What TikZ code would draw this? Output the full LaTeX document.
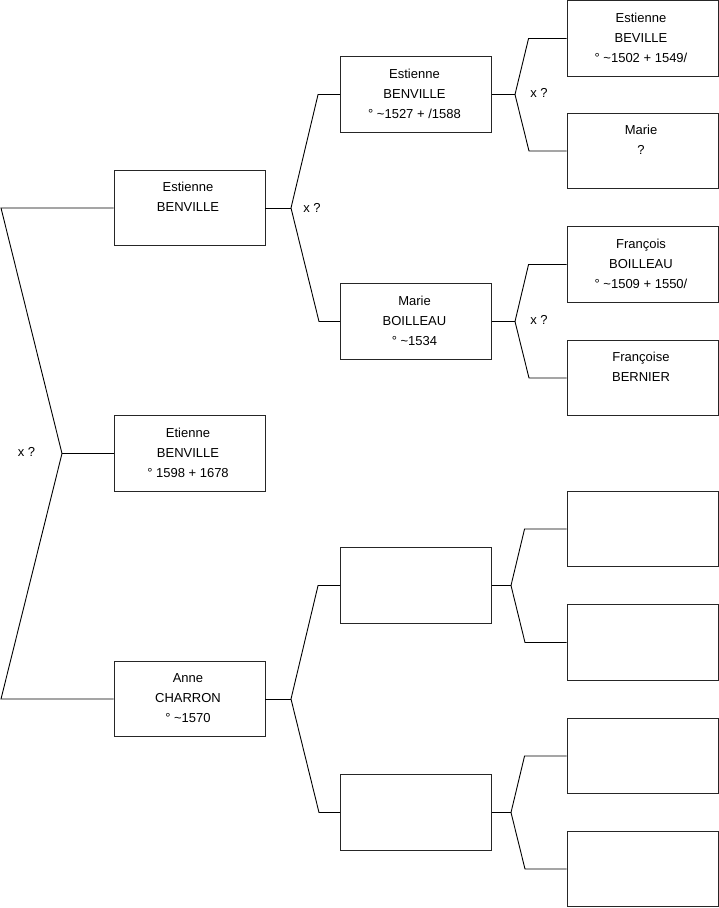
\documentclass[tikz,border=0pt]{standalone}
\usepackage{fontspec}
\setmainfont{Liberation Sans}
\begin{document}
\begin{tikzpicture}[x=1pt,y=-1pt,
  box/.style={draw=black!85,line width=0.9pt,minimum width=151pt,minimum height=75.5pt,inner sep=0pt,fill=white},
  txt/.style={anchor=north,align=center,inner sep=0pt,font=\fontsize{13}{20}\selectfont},
  link/.style={draw=black,line width=0.9pt},
  xq/.style={font=\fontsize{13}{14}\selectfont,inner sep=0pt}]
\useasboundingbox (0,0) rectangle (719,908);
% generation 1
\node[box] (e0) at (189.5,453.5) {};
\node[box] (f1) at (189.5,208) {};
\node[box] (m1) at (189.5,699) {};
% generation 2
\node[box] (f2) at (416,94.5) {};
\node[box] (m2) at (416,321.5) {};
\node[box] (f3) at (416,585.5) {};
\node[box] (m3) at (416,812.5) {};
% generation 3
\node[box] (g1) at (642.5,38.5) {};
\node[box] (g2) at (642.5,151) {};
\node[box] (g3) at (642.5,264.5) {};
\node[box] (g4) at (642.5,378) {};
\node[box] (g5) at (642.5,529) {};
\node[box] (g6) at (642.5,642.5) {};
\node[box] (g7) at (642.5,756) {};
\node[box] (g8) at (642.5,869) {};
% texts
\node[txt] (te0) at ([xshift=-1.5pt,yshift=-6.5pt]e0.north) {\rule{0pt}{15pt}Etienne\\BENVILLE\\° 1598 + 1678};
\node[txt] (tf1) at ([xshift=-1.5pt,yshift=-6.5pt]f1.north) {\rule{0pt}{15pt}Estienne\\BENVILLE};
\node[txt] (tm1) at ([xshift=-1.5pt,yshift=-6.5pt]m1.north) {\rule{0pt}{15pt}Anne\\CHARRON\\° \textasciitilde1570};
\node[txt] (tf2) at ([xshift=-1.5pt,yshift=-6.5pt]f2.north) {\rule{0pt}{15pt}Estienne\\BENVILLE\\° \textasciitilde1527 + /1588};
\node[txt] (tm2) at ([xshift=-1.5pt,yshift=-6.5pt]m2.north) {\rule{0pt}{15pt}Marie\\BOILLEAU\\° \textasciitilde1534};
\node[txt] (tg1) at ([xshift=-1.5pt,yshift=-6.5pt]g1.north) {\rule{0pt}{15pt}Estienne\\BEVILLE\\° \textasciitilde1502 + 1549/};
\node[txt] (tg2) at ([xshift=-1.5pt,yshift=-6.5pt]g2.north) {\rule{0pt}{15pt}Marie\\?};
\node[txt] (tg3) at ([xshift=-1.5pt,yshift=-6.5pt]g3.north) {\rule{0pt}{15pt}François\\BOILLEAU\\° \textasciitilde1509 + 1550/};
\node[txt] (tg4) at ([xshift=-1.5pt,yshift=-6.5pt]g4.north) {\rule{0pt}{15pt}Françoise\\BERNIER};
% vertices
\coordinate (v0) at (62,453.5);
\coordinate (v1) at (291,208);
\coordinate (v2) at (291,699);
\coordinate (v3) at (515,94.5);
\coordinate (v4) at (515,321.5);
\coordinate (v5) at (511,585.5);
\coordinate (v6) at (511,812.5);
% root connector
\draw[link] (f1.west) -- (1,208) -- (v0) -- (1,699) -- (m1.west);
\draw[link] (v0) -- (e0.west);
% gen 1 -> 2
\draw[link] (f1.east) -- (v1);
\draw[link] (f2.west) -- ++(-22,0) -- (v1) -- (319,321.5) -- (m2.west);
\draw[link] (m1.east) -- (v2);
\draw[link] (f3.west) -- ++(-22,0) -- (v2) -- (319,812.5) -- (m3.west);
% gen 2 -> 3
\draw[link] (f2.east) -- (v3);
\draw[link] (g1.west) -- ++(-38,0) -- (v3) -- (529,151) -- (g2.west);
\draw[link] (m2.east) -- (v4);
\draw[link] (g3.west) -- ++(-38,0) -- (v4) -- (529,378) -- (g4.west);
\draw[link] (f3.east) -- (v5);
\draw[link] (g5.west) -- ++(-42,0) -- (v5) -- (525,642.5) -- (g6.west);
\draw[link] (m3.east) -- (v6);
\draw[link] (g7.west) -- ++(-42,0) -- (v6) -- (525,869) -- (g8.west);
% marriage labels
\node[xq] (x0) at (26.5,452) {x ?};
\node[xq] (x1) at (312,208) {x ?};
\node[xq] (x2) at (539,93) {x ?};
\node[xq] (x3) at (539,320) {x ?};
\end{tikzpicture}
\end{document}
